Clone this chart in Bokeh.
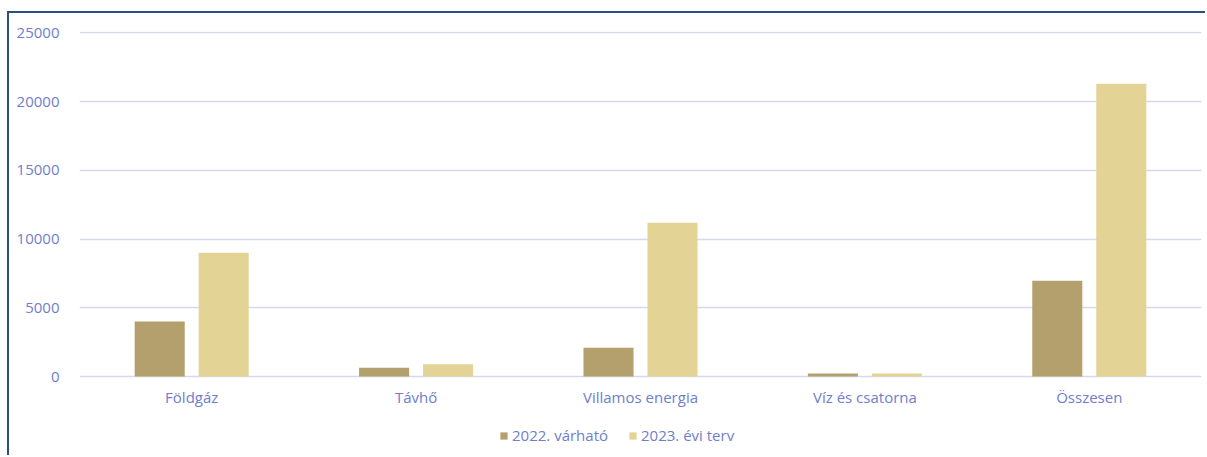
from bokeh.plotting import figure
from bokeh.models import ColumnDataSource, FactorRange, Range1d, Legend, LegendItem, FixedTicker, Spacer
from bokeh.layouts import row, column
from bokeh.core.properties import value
from bokeh.transform import dodge
from bokeh.embed import file_html
from bokeh.resources import INLINE

categories = ["Földgáz", "Távhő", "Villamos energia", "Víz és csatorna", "Összesen"]
v2022 = [4000, 650, 2100, 220, 6970]
v2023 = [9000, 890, 11190, 220, 21300]
series_names = ["2022. várható", "2023. évi terv"]
y_ticks = [0, 5000, 10000, 15000, 20000, 25000]

FONT = "Open Sans"
TXT = "#6E7ECC"
C2022 = "#B4A06C"
C2023 = "#E3D395"
GRID = "#D6D8F0"

src = ColumnDataSource(dict(cat=categories, a=v2022, b=v2023))

# frame extends below zero so the category labels and legend live inside it
p = figure(x_range=FactorRange(*categories), y_range=Range1d(-5520, 25100),
           width=1198, height=444, output_backend="svg", toolbar_location=None,
           x_axis_location=None,
           min_border_left=70, min_border_right=6, min_border_top=18, min_border_bottom=5)

r1 = p.vbar(x=dodge("cat", -0.1426, range=p.x_range), top="a", width=0.223, source=src,
            fill_color=C2022, line_color=None)
r2 = p.vbar(x=dodge("cat", 0.1426, range=p.x_range), top="b", width=0.223, source=src,
            fill_color=C2023, line_color=None)

# category labels under the zero line
p.text(x="cat", y=-1450, text="cat", source=src, text_align="center", text_baseline="middle",
       text_font=value(FONT), text_font_size="15px", text_color=TXT)

p.outline_line_color = None
p.xgrid.grid_line_color = None
p.ygrid.grid_line_color = GRID
p.ygrid.grid_line_width = 1.6
p.yaxis.ticker = FixedTicker(ticks=y_ticks)

ax = p.yaxis
ax.axis_line_color = None
ax.major_tick_line_color = None
ax.minor_tick_line_color = None
ax.major_label_text_color = TXT
ax.major_label_text_font = FONT
ax.major_label_text_font_size = "15px"
ax.major_label_standoff = 14

legend = Legend(items=[LegendItem(label=series_names[0], renderers=[r1]),
                       LegendItem(label=series_names[1], renderers=[r2])],
                orientation="horizontal", location=(420, 7),
                label_text_font=FONT, label_text_font_size="15px", label_text_color=TXT,
                glyph_width=9, glyph_height=9, label_standoff=4, spacing=20,
                border_line_color=None, background_fill_alpha=0, padding=0, margin=0)
p.add_layout(legend)

p.styles = {"border-top": "2px solid #2A5080", "border-left": "2px solid #2A5080"}
layout = column(Spacer(height=11, width=10), row(Spacer(width=7, height=10), p))

open("out.html", "w").write(file_html(layout, INLINE))
